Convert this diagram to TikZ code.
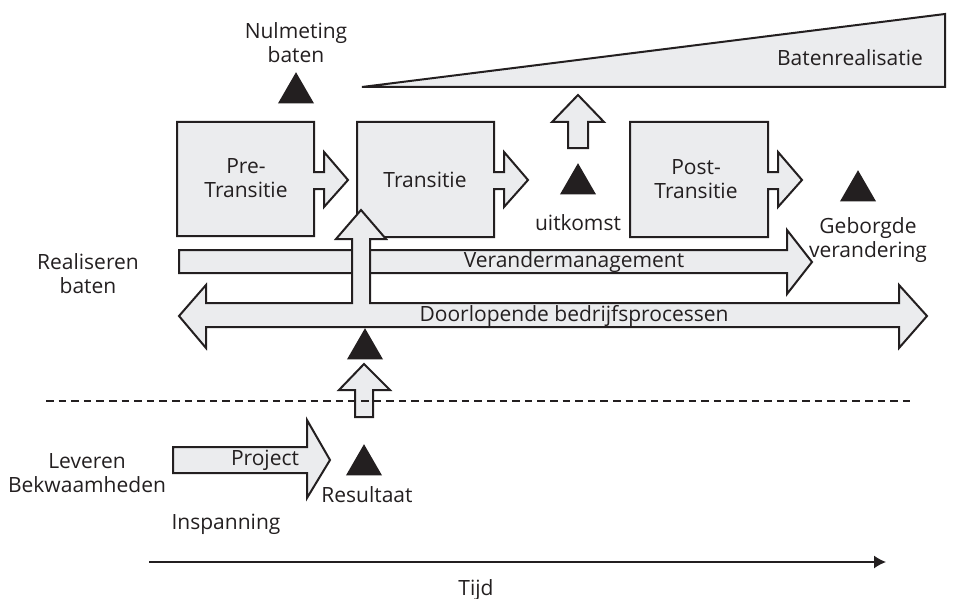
\documentclass[tikz,border=0pt]{standalone}
\usepackage{fontspec}
\setmainfont{Open Sans}
\usetikzlibrary{positioning}
\usetikzlibrary{shapes.geometric}
\usetikzlibrary{arrows.meta}

\definecolor{blokgrijs}{HTML}{EBECEE}
\definecolor{inkt}{HTML}{231F20}

\begin{document}
\begin{tikzpicture}[x=0.5pt, y=-0.5pt,
                      blok/.style={draw=inkt, fill=blokgrijs, line width=1pt, line join=miter},
                      mijlpaal/.style={regular polygon, regular polygon sides=3, fill=inkt, inner sep=0pt, minimum size=20.8pt},
                      tekst/.style={text=inkt, align=center, font=\fontsize{10.5}{12}\selectfont, inner sep=0pt},
                  ]
                  \useasboundingbox (0,0) rectangle (963,599);

                  % Batenrealisatie
                  \draw[blok] (362,87) -- (945,14) -- (945,87) -- cycle;

                  % Blokken met pijl
                  \draw[blok] (177,122) -- (314,122) -- (314,172) -- (324,172) -- (324,152) -- (348,180)
                              -- (324,207) -- (324,189) -- (314,189) -- (314,236) -- (177,236) -- cycle;
                  \draw[blok] (357,122) -- (494,122) -- (494,172) -- (504,172) -- (504,152) -- (528,180)
                              -- (504,207) -- (504,189) -- (494,189) -- (494,237) -- (357,237) -- cycle;
                  \draw[blok] (630,122) -- (768,122) -- (768,172) -- (778,172) -- (778,152) -- (802,180)
                              -- (778,207) -- (778,189) -- (768,189) -- (768,237) -- (630,237) -- cycle;

                  % Verandermanagement
                  \draw[blok] (179,250) -- (787,250) -- (787,230) -- (812,262) -- (787,294) -- (787,273)
                              -- (179,273) -- cycle;

                  % Doorlopende bedrijfsprocessen met pijl omhoog
                  \draw[blok] (179,316) -- (206,285) -- (206,303) -- (352,303) -- (352,239) -- (336,239)
                              -- (361,210) -- (386,239) -- (370,239) -- (370,303) -- (899,303) -- (899,285)
                              -- (927,316) -- (899,348) -- (899,327) -- (206,327) -- (206,348) -- cycle;

                  % Kleine pijlen omhoog
                  \draw[blok] (568,148) -- (568,122) -- (552,122) -- (578,95) -- (604,122) -- (588,122)
                              -- (588,148) -- cycle;
                  \draw[blok] (355,417) -- (355,390) -- (339,390) -- (364,364) -- (390,390) -- (373,390)
                              -- (373,417) -- cycle;

                  % Project
                  \draw[blok] (173,447) -- (307,447) -- (307,420) -- (330,460) -- (307,498) -- (307,473)
                              -- (173,473) -- cycle;

                  % Mijlpalen
                  \node[mijlpaal] (nulmeting)  at (296,93)  {};
                  \node[mijlpaal] (uitkomst)   at (578,184) {};
                  \node[mijlpaal] (geborgd)    at (858,191) {};
                  \node[mijlpaal] (overdracht) at (365,349) {};
                  \node[mijlpaal] (resultaat)  at (364,465) {};

                  % Teksten
                  \node[tekst] (t_nulmeting)   at (296,43)  {Nulmeting\\baten};
                  \node[tekst] (t_baten)       at (850,58)  {Batenrealisatie};
                  \node[tekst] (t_pre)         at (246,178) {Pre-\\Transitie};
                  \node[tekst] (t_transitie)   at (425,180) {Transitie};
                  \node[tekst] (t_post)        at (696,179) {Post-\\Transitie};
                  \node[tekst] (t_uitkomst)    at (578,223) {uitkomst};
                  \node[tekst] (t_geborgd)     at (868,240) {Geborgde\\verandering};
                  \node[tekst] (t_realiseren)  at (88,274)  {Realiseren\\baten};
                  \node[tekst] (t_verander)    at (574,262) {Verandermanagement};
                  \node[tekst] (t_doorlopend)  at (574,316) {Doorlopende bedrijfsprocessen};
                  \node[tekst] (t_leveren)     at (87,473)  {Leveren\\Bekwaamheden};
                  \node[tekst] (t_project)     at (265,460) {Project};
                  \node[tekst] (t_resultaat)   at (367,495) {Resultaat};
                  \node[tekst] (t_inspanning)  at (226,524) {Inspanning};
                  \node[tekst] (t_tijd)        at (476,590) {Tijd};

                  % Lijnen
                  \coordinate (grens_links)  at (46,401);
                  \coordinate (grens_rechts) at (915,401);
                  \coordinate (tijd_begin)   at (149,562);
                  \coordinate (tijd_eind)    at (886,562);
                  \draw[inkt, line width=0.65pt, dash pattern=on 3.8pt off 2.5pt] (grens_links) -- (grens_rechts);
                  \draw[inkt, line width=0.65pt, -{Latex[length=6pt, width=6.5pt]}] (tijd_begin) -- (tijd_eind);
              \end{tikzpicture}
\end{document}
